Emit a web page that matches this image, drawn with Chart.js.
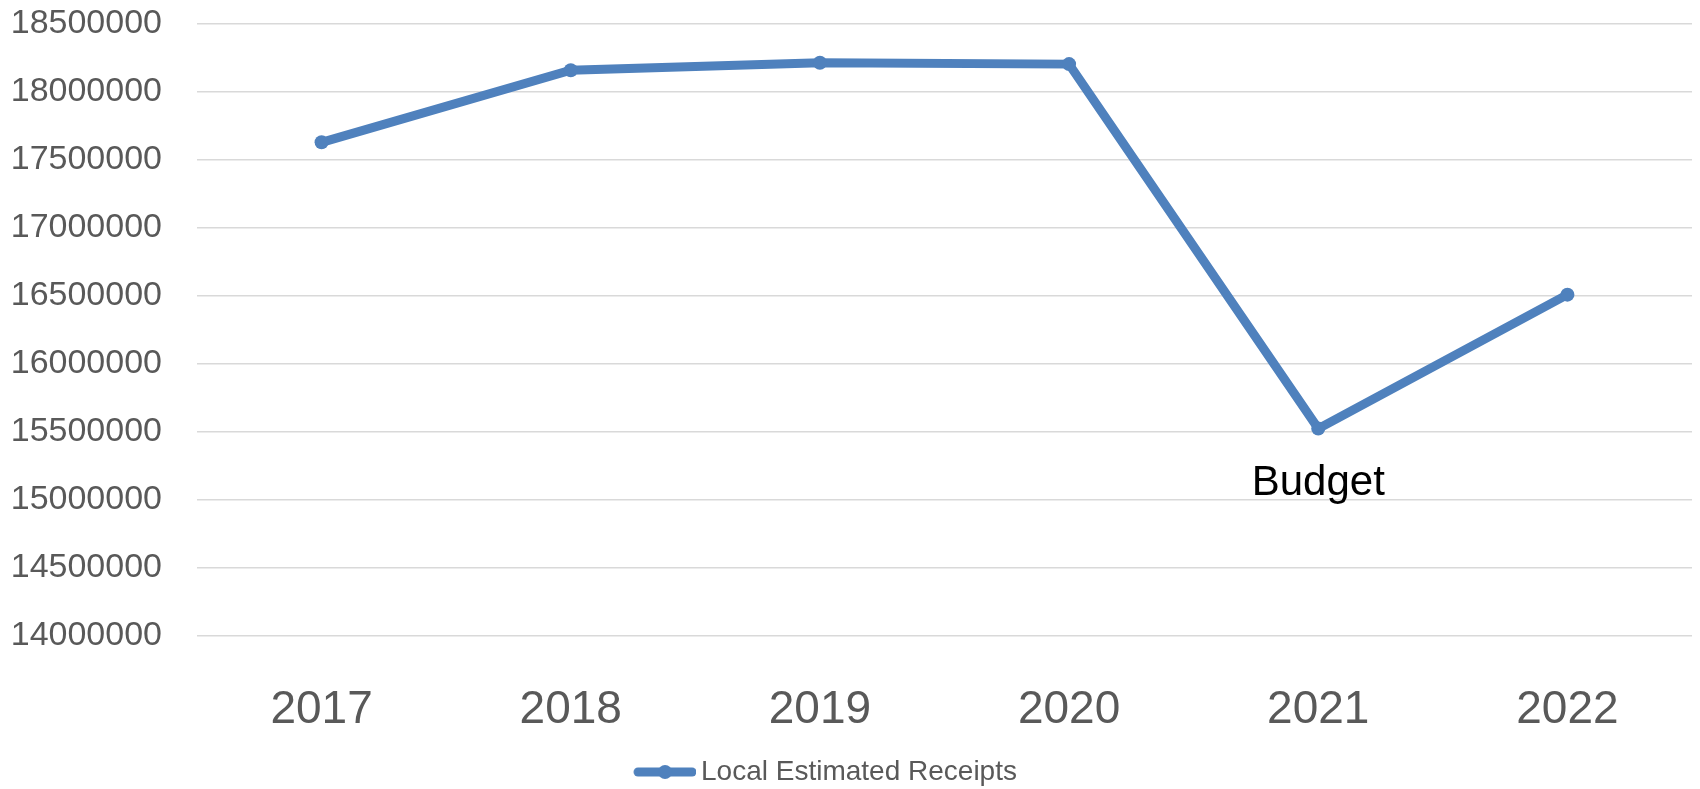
<!DOCTYPE html>
<html>
<head>
<meta charset="utf-8">
<script src="https://cdn.jsdelivr.net/npm/chart.js@4"></script>
<style>
  html, body { margin: 0; padding: 0; background: #fff; }
  #wrap { width: 1700px; height: 789px; }
</style>
</head>
<body>
<div id="wrap"><canvas id="chart" width="1700" height="789"></canvas></div>
<script>
// values
var years = ['2017', '2018', '2019', '2020', '2021', '2022'];
var receipts = [17630000, 18160000, 18215000, 18205000, 15525000, 16510000];
var seriesName = 'Local Estimated Receipts';
var noteYear = '2021';
var noteText = 'Budget';

var blue = '#4F81BD';
var grey = '#595959';

// legend marker: line with a dot in the middle, like excel
var marker = document.createElement('canvas');
marker.width = 64;
marker.height = 18;
var m = marker.getContext('2d');
m.strokeStyle = blue;
m.lineWidth = 9;
m.lineCap = 'round';
m.beginPath();
m.moveTo(6, 9);
m.lineTo(60, 9);
m.stroke();
m.fillStyle = blue;
m.beginPath();
m.arc(33, 9, 7, 0, Math.PI * 2);
m.fill();

// "Budget" text under the 2021 point
var notePlugin = {
  id: 'note',
  afterDatasetsDraw: function(chart) {
    var ctx = chart.ctx;
    var i = years.indexOf(noteYear);
    var x = chart.scales.x.getPixelForValue(i);
    var y = chart.scales.y.getPixelForValue(receipts[i]);
    ctx.save();
    ctx.fillStyle = '#000';
    ctx.font = '42px "Liberation Sans"';
    ctx.textAlign = 'center';
    ctx.textBaseline = 'alphabetic';
    ctx.fillText(noteText, x, y + 66);
    ctx.restore();
  }
};

var chart = new Chart(document.getElementById('chart'), {
  type: 'line',
  data: {
    labels: years,
    datasets: [{
      label: seriesName,
      data: receipts,
      borderColor: blue,
      backgroundColor: blue,
      borderWidth: 9,
      pointRadius: 7,
      pointBackgroundColor: blue,
      pointBorderWidth: 0,
      tension: 0
    }]
  },
  options: {
    responsive: false,
    animation: false,
    layout: {
      autoPadding: false,
      padding: { top: 24, right: 8, bottom: -7, left: -34 }
    },
    plugins: {
      tooltip: { enabled: false },
      legend: {
        position: 'bottom',
        labels: {
          usePointStyle: true,
          pointStyle: marker,
          pointStyleWidth: 46,
          color: grey,
          padding: 24,
          font: { family: '"Liberation Sans"', size: 28 }
        }
      }
    },
    scales: {
      x: {
        offset: true,
        afterFit: function(scale) { scale.height = 98; },
        grid: { display: false, drawTicks: false },
        border: { display: false },
        ticks: {
          color: grey,
          padding: 47,
          font: { family: '"Liberation Sans"', size: 46 }
        }
      },
      y: {
        min: 14000000,
        max: 18500000,
        afterFit: function(scale) { scale.width = 231; },
        // invisible tick marks give the gap between labels and plot
        grid: { color: '#D9D9D9', lineWidth: 1.5, drawTicks: true, tickLength: 35, tickColor: 'rgba(0,0,0,0)' },
        border: { display: false },
        ticks: {
          stepSize: 500000,
          color: grey,
          padding: 0,
          font: { family: '"Liberation Sans"', size: 34 },
          callback: function(v) { return String(v); }
        }
      }
    }
  },
  plugins: [notePlugin]
});
</script>
</body>
</html>
